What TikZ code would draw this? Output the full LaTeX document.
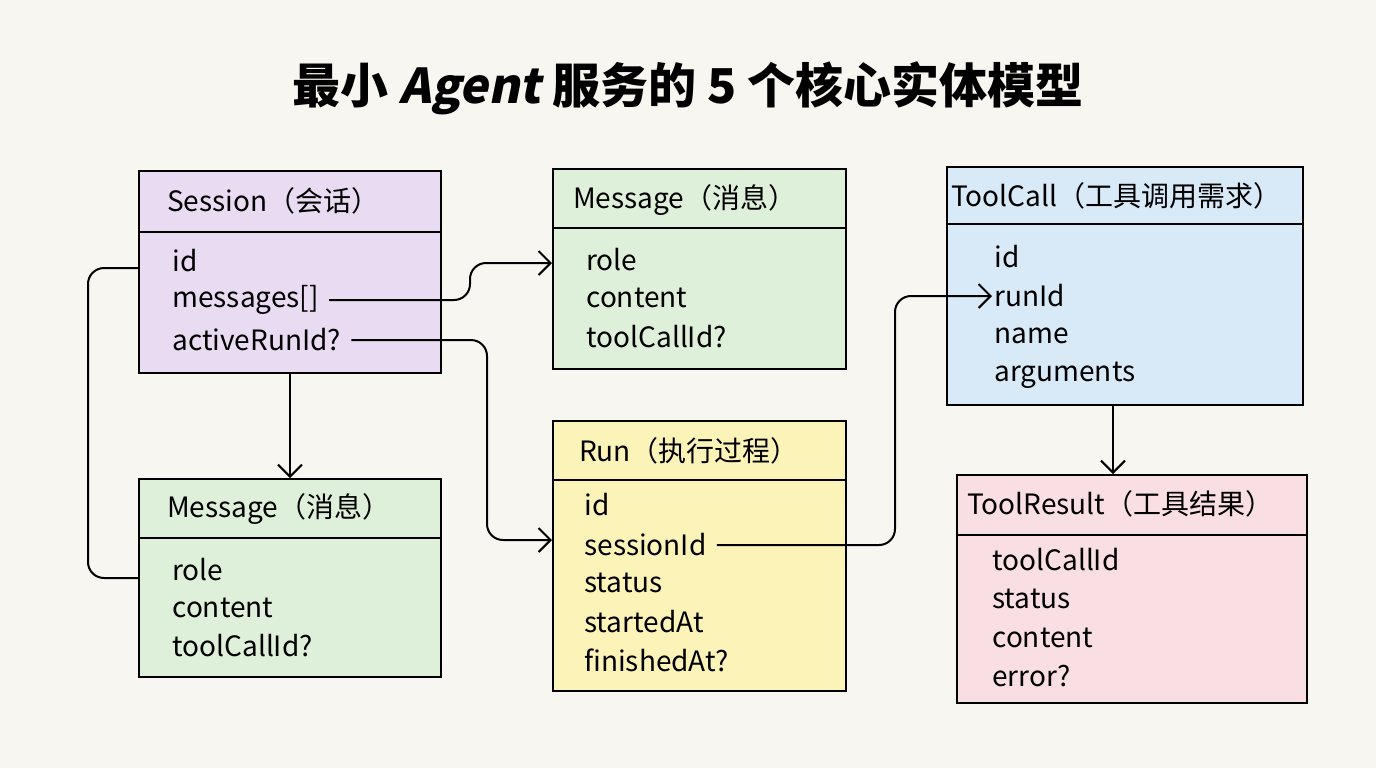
\documentclass[tikz,border=0pt]{standalone}
\usepackage{fontspec}
\setmainfont{Noto Sans CJK SC}
\newfontfamily\slantsans[FakeSlant=0.2]{Noto Sans CJK SC}
\usetikzlibrary{arrows.meta,positioning}
\definecolor{bg}{HTML}{F8F6F1}
\definecolor{sessfill}{HTML}{E9DBF2}
\definecolor{msgfill}{HTML}{DFF0DA}
\definecolor{runfill}{HTML}{FBF3B8}
\definecolor{toolfill}{HTML}{D8E9F8}
\definecolor{resfill}{HTML}{F9DEE3}
\begin{document}
\begin{tikzpicture}[x=0.5pt,y=-0.5pt,>={Straight Barb[length=6pt]},
    box/.style={draw,line width=1.2pt},
    head/.style={anchor=west,font=\fontsize{14}{16}\selectfont},
    field/.style={anchor=west,inner sep=1pt,font=\fontsize{14}{16}\selectfont},
    link/.style={draw,line width=1pt,rounded corners=8pt}]

  \fill[bg] (0,0) rectangle (1376,768);
  \useasboundingbox (0,0) rectangle (1376,768);

  \node[font=\fontsize{24}{28}\selectfont\bfseries] (title) at (688,88) {最小 {\slantsans\bfseries Agent} 服务的 5 个核心实体模型};

  % Session
  \node[box,fill=sessfill,minimum width=151pt,minimum height=101pt,anchor=north west] (sess) at (138,170) {};
  \draw[line width=1.2pt] (138,232) -- (440,232);
  \node[head] (sessT) at (160,201) {Session（会话）};
  \node[field] (sid) at (170,261) {id};
  \node[field] (smsg) at (170,300) {messages[]};
  \node[field] (srun) at (170,340) {activeRunId?};

  % Message (left)
  \node[box,fill=msgfill,minimum width=151pt,minimum height=99pt,anchor=north west] (msgA) at (138,478) {};
  \draw[line width=1.2pt] (138,538) -- (440,538);
  \node[head] (msgAT) at (160,509) {Message（消息）};
  \node[field] (arole) at (170,570) {role};
  \node[field] (acont) at (170,608) {content};
  \node[field] (atool) at (170,646) {toolCallId?};

  % Message (top)
  \node[box,fill=msgfill,minimum width=146.5pt,minimum height=100pt,anchor=north west] (msgB) at (552,168) {};
  \draw[line width=1.2pt] (552,228) -- (845,228);
  \node[head] (msgBT) at (566,200) {Message（消息）};
  \node[field] (brole) at (584,260) {role};
  \node[field] (bcont) at (584,298) {content};
  \node[field] (btool) at (584,337) {toolCallId?};

  % Run
  \node[box,fill=runfill,minimum width=146.5pt,minimum height=135pt,anchor=north west] (run) at (552,420) {};
  \draw[line width=1.2pt] (552,480) -- (845,480);
  \node[head] (runT) at (572,451) {Run（执行过程）};
  \node[field] (rid) at (582,505) {id};
  \node[field] (rsess) at (582,545) {sessionId};
  \node[field] (rstat) at (582,583) {status};
  \node[field] (rstart) at (582,622) {startedAt};
  \node[field] (rfin) at (582,660) {finishedAt?};

  % ToolCall
  \node[box,fill=toolfill,minimum width=178pt,minimum height=119pt,anchor=north west] (tc) at (946,166) {};
  \draw[line width=1.2pt] (946,224) -- (1302,224);
  \node[head] (tcT) at (944,196) {ToolCall（工具调用需求）};
  \node[field] (tid) at (992,257) {id};
  \node[field] (trun) at (992,296) {runId};
  \node[field] (tname) at (992,336) {name};
  \node[field] (targ) at (992,375) {arguments};

  % ToolResult
  \node[box,fill=resfill,minimum width=175pt,minimum height=114pt,anchor=north west] (tr) at (956,474) {};
  \draw[line width=1.2pt] (956,535) -- (1306,535);
  \node[head] (trT) at (960,504) {ToolResult（工具结果）};
  \node[field] (xtool) at (990,560) {toolCallId};
  \node[field] (xstat) at (990,599) {status};
  \node[field] (xcont) at (990,638) {content};
  \node[field] (xerr) at (990,676) {error?};

  % connectors
  \draw[link,->] (smsg.east) ++(8,0) -- (470,300) -- (470,263) -- (msgB.west |- 0,263);
  \draw[link,->] (srun.east) ++(8,0) -- (487,340) -- (487,540) -- (run.west |- 0,540);
  \draw[link,->] (sess.south -| 290,0) -- (msgA.north -| 290,0);
  \draw[link] (sess.west |- 0,268) -- (88,268) -- (88,578) -- (msgA.west |- 0,578);
  \draw[link,->] (rsess.east) ++(8,0) -- (895,545) -- (895,296) -- (trun.west);
  \draw[link,->] (tc.south -| 1113,0) -- (tr.north -| 1113,0);
\end{tikzpicture}
\end{document}
